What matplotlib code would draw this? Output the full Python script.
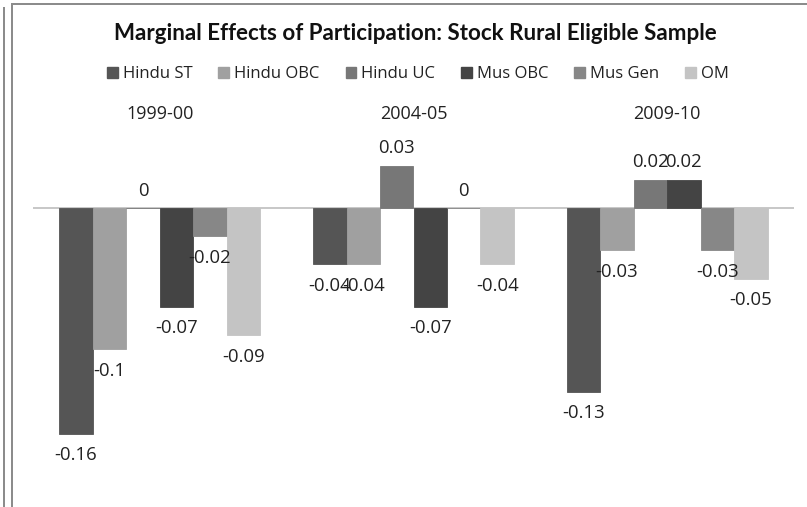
import matplotlib
matplotlib.use("Agg")
import matplotlib.pyplot as plt
from matplotlib.patches import Patch
from matplotlib.lines import Line2D
import numpy as np

# ---- data ----
years = ["1999-00", "2004-05", "2009-10"]
series = ["Hindu ST", "Hindu OBC", "Hindu UC", "Mus OBC", "Mus Gen", "OM"]
hindu_st = [-0.16, -0.04, -0.13]
hindu_obc = [-0.10, -0.04, -0.03]
hindu_uc = [0.00, 0.03, 0.02]
mus_obc = [-0.07, -0.07, 0.02]
mus_gen = [-0.02, 0.00, -0.03]
om = [-0.09, -0.04, -0.05]
values = [hindu_st, hindu_obc, hindu_uc, mus_obc, mus_gen, om]
labels_txt = [["0" if v == 0 else f"{v:g}" for v in s] for s in values]
colors = ["#555555", "#a0a0a0", "#777777", "#444444", "#878787", "#c4c4c4"]

W, H = 807, 507
fig = plt.figure(figsize=(W / 100, H / 100), dpi=100)
fig.patch.set_facecolor("white")

# axes placement in pixels
x0_px, x1_px = 33, 794
zero_px, scale_px = 208, 1412.0
ymin, ymax = -0.19, 0.058
top_px = zero_px - ymax * scale_px
bot_px = zero_px - ymin * scale_px
ax = fig.add_axes([x0_px / W, (H - bot_px) / H, (x1_px - x0_px) / W, (bot_px - top_px) / H])
ax.set_xlim(-0.5, 2.5)
ax.set_ylim(ymin, ymax)

label_font = "Open Sans"
text_col = "#222222"
n = len(series)
bw = 0.132
x = np.arange(len(years))
for i, (vals, col, txts) in enumerate(zip(values, colors, labels_txt)):
    pos = x + (i - (n - 1) / 2) * bw
    ax.bar(pos, vals, width=bw, color=col, edgecolor=col, linewidth=0.6, zorder=2)
    for px_, v, t in zip(pos, vals, txts):
        off = 12.5 if v >= 0 else -15.5
        ax.annotate(t, (px_, v), xytext=(0, off), textcoords="offset points",
                    ha="center", va="center", fontsize=13.3, family=label_font,
                    color=text_col, zorder=3)

ax.axhline(0, color="#bdbdbd", linewidth=1.2, zorder=1)
for s in ax.spines.values():
    s.set_visible(False)
ax.set_yticks([])
ax.xaxis.tick_top()
ax.set_xticks(x)
ax.set_xticklabels(years, fontsize=13, family=label_font, color=text_col)
ax.tick_params(axis="x", length=0, pad=2)

# title
fig.text(415 / W, 1 - 33 / H, "Marginal Effects of Participation: Stock Rural Eligible Sample",
         ha="center", va="center", fontsize=16.1, fontweight="bold", family="Lato",
         color="#111111")

# legend
handles = [Patch(facecolor=c, edgecolor=c) for c in colors]
fig.legend(handles, series, loc="center", bbox_to_anchor=(418 / W, 1 - 74 / H), ncol=6,
           frameon=False, handlelength=0.65, handleheight=0.65, handletextpad=0.3,
           columnspacing=1.55, prop={"family": label_font, "size": 12},
           labelcolor=text_col)

# outer frame lines
def pxline(xs, ys, lw=2):
    fig.add_artist(Line2D([v / W for v in xs], [1 - v / H for v in ys],
                          transform=fig.transFigure, color="#8c8c8c", linewidth=lw * 0.72))

pxline([4, 4], [8, H], 2)
pxline([12, 12], [4, H], 2)
pxline([12, W], [4, 4], 2)

fig.savefig("out.png", dpi=100, facecolor="white")
